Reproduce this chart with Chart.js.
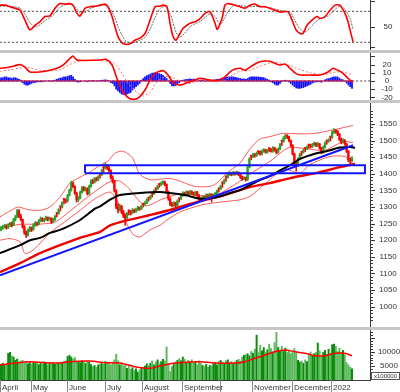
<!DOCTYPE html>
<html><head><meta charset="utf-8">
<script src="https://cdn.jsdelivr.net/npm/chart.js@4.4.1/dist/chart.umd.min.js"></script>
<style>
html,body{margin:0;padding:0;background:#fff;}
#wrap{position:relative;width:400px;height:392px;overflow:hidden;background:#fff;}
canvas{position:absolute;left:0;}
.sep{position:absolute;left:0;width:400px;height:3px;background:#c6c6c6;}
</style></head><body>
<div id="wrap">
<canvas id="c1" width="400" height="50" style="top:0"></canvas>
<div class="sep" style="top:50px"></div>
<canvas id="c2" width="400" height="47" style="top:53px"></canvas>
<div class="sep" style="top:100px"></div>
<canvas id="c3" width="400" height="224" style="top:103px"></canvas>
<div class="sep" style="top:327px"></div>
<canvas id="c4" width="400" height="62" style="top:330px"></canvas>
</div>
<script>
// ---------- DATA (daily bars, index 0 = early April 2021) ----------
const opens = [
1232,1238,1241,1244,1238,1246,1252,1246,1262,1271,
1288,1272,1262,1240,1222,1216,1230,1238,1233,1245,
1252,1248,1258,1265,1260,1262,1268,1263,1266,1255,
1262,1283,1280,1303,1300,1325,1322,1318,1335,1350,
1372,1362,1342,1322,1328,1345,1358,1352,1355,1340,
1362,1378,1375,1385,1382,1401,1398,1421,1418,1424,
1418,1410,1388,1378,1350,1300,1292,1302,1285,1275,
1268,1290,1286,1282,1290,1287,1292,1298,1295,1311,
1308,1312,1329,1326,1343,1340,1357,1355,1371,1368,
1372,1375,1368,1345,1325,1308,1305,1312,1305,1327,
1325,1335,1342,1338,1345,1340,1346,1342,1338,1345,
1335,1325,1322,1330,1328,1336,1332,1338,1330,1336,
1340,1357,1355,1375,1372,1393,1390,1398,1402,1398,
1403,1400,1404,1398,1390,1385,1388,1382,1420,1455,
1452,1458,1455,1469,1466,1460,1468,1472,1465,1478,
1475,1468,1478,1472,1465,1475,1501,1498,1508,1515,
1512,1500,1485,1460,1430,1425,1445,1467,1465,1479,
1476,1489,1486,1482,1488,1492,1485,1490,1478,1465,
1480,1501,1498,1513,1510,1525,1530,1528,1520,1505,
1495,1500,1490,1468,1442,1440];
const highs = [
1242,1245,1248,1247,1250,1254,1255,1266,1275,1293,
1292,1278,1264,1244,1228,1234,1242,1240,1250,1256,
1255,1262,1270,1268,1266,1273,1270,1270,1268,1266,
1276,1284,1295,1304,1316,1326,1325,1338,1354,1378,
1376,1364,1345,1332,1348,1362,1362,1360,1358,1366,
1382,1384,1389,1390,1394,1402,1414,1422,1432,1428,
1422,1412,1394,1380,1352,1310,1308,1305,1290,1280,
1284,1292,1290,1295,1294,1296,1302,1300,1306,1312,
1316,1325,1330,1336,1344,1352,1358,1366,1372,1376,
1380,1378,1370,1348,1328,1314,1316,1315,1322,1328,
1338,1346,1345,1349,1348,1350,1349,1345,1348,1347,
1338,1328,1334,1333,1340,1339,1342,1340,1340,1344,
1352,1358,1366,1376,1384,1394,1402,1406,1405,1407,
1406,1408,1406,1400,1393,1392,1390,1424,1448,1456,
1462,1461,1466,1470,1469,1472,1476,1474,1474,1479,
1477,1482,1480,1475,1478,1492,1502,1512,1519,1518,
1514,1502,1488,1462,1436,1448,1462,1468,1474,1480,
1484,1490,1489,1492,1496,1494,1494,1492,1480,1484,
1496,1502,1506,1514,1529,1536,1534,1531,1522,1508,
1506,1503,1492,1470,1448,1452];
const lows = [
1228,1233,1236,1233,1235,1242,1240,1244,1258,1268,
1268,1258,1236,1218,1208,1212,1226,1226,1230,1242,
1243,1246,1255,1256,1255,1260,1258,1260,1250,1252,
1260,1270,1278,1288,1297,1309,1312,1315,1333,1348,
1358,1338,1315,1316,1325,1342,1348,1348,1336,1338,
1360,1370,1372,1378,1379,1387,1395,1406,1415,1412,
1404,1384,1372,1345,1295,1282,1288,1280,1268,1245,
1264,1276,1276,1279,1283,1284,1289,1290,1292,1300,
1305,1310,1318,1323,1330,1337,1345,1352,1359,1364,
1368,1364,1342,1320,1304,1300,1302,1300,1302,1315,
1322,1332,1333,1335,1336,1337,1338,1334,1335,1332,
1318,1316,1319,1322,1325,1328,1329,1315,1327,1333,
1337,1345,1352,1359,1369,1377,1387,1395,1394,1395,
1396,1397,1394,1386,1380,1382,1378,1380,1418,1442,
1449,1450,1452,1459,1456,1457,1465,1462,1462,1467,
1465,1465,1468,1460,1462,1472,1485,1495,1505,1506,
1496,1482,1456,1420,1408,1422,1442,1455,1462,1467,
1473,1477,1478,1479,1485,1482,1482,1474,1460,1462,
1477,1489,1495,1499,1507,1522,1522,1515,1500,1490,
1492,1486,1464,1436,1430,1436];
const closes = [
1237,1240,1243,1238,1246,1250,1245,1262,1270,1288,
1272,1262,1240,1222,1215,1230,1238,1232,1245,1252,
1248,1258,1265,1260,1262,1268,1263,1266,1255,1262,
1272,1280,1292,1300,1312,1322,1318,1335,1350,1372,
1362,1342,1322,1328,1345,1358,1352,1355,1340,1362,
1378,1375,1385,1382,1390,1398,1410,1418,1424,1418,
1410,1388,1378,1350,1300,1292,1302,1285,1275,1268,
1280,1286,1282,1290,1287,1292,1298,1295,1303,1308,
1312,1322,1326,1332,1340,1348,1355,1362,1368,1372,
1375,1368,1345,1325,1308,1305,1312,1305,1318,1325,
1335,1342,1338,1345,1340,1346,1342,1338,1345,1335,
1325,1322,1330,1328,1336,1332,1338,1330,1336,1340,
1348,1355,1362,1372,1380,1390,1398,1402,1398,1403,
1400,1404,1398,1390,1385,1388,1382,1420,1445,1452,
1458,1455,1462,1466,1460,1468,1472,1465,1470,1475,
1468,1478,1472,1465,1475,1488,1498,1508,1515,1512,
1500,1485,1460,1430,1425,1445,1458,1465,1470,1476,
1480,1486,1482,1488,1492,1485,1490,1478,1465,1480,
1492,1498,1502,1510,1525,1530,1528,1520,1505,1495,
1500,1490,1468,1442,1440,1446];
const volumes = [
5600,6000,5400,5800,9500,9900,8600,8200,7000,7500,
6400,6800,7000,6200,6600,5800,6200,5600,6400,5900,
6300,5500,6100,5700,6500,6000,5400,6200,5800,6100,
5600,6300,5900,6400,6000,6600,6800,8400,8800,8200,
7600,8000,6800,6400,6200,6800,6500,5900,6600,6300,
5500,4800,5200,4600,5400,5800,6400,5600,6600,5900,
6200,5400,6000,7200,9200,6800,5400,6200,5000,5600,
4200,4800,3800,4400,3400,4000,2800,3600,4200,4600,
5000,5800,5200,6000,6800,5400,6400,7200,5800,6600,
7400,6800,11800,5600,3000,4800,5600,6400,7000,7600,
6800,8200,7400,6200,7000,6400,7200,6000,6600,5400,
6800,6000,5200,4800,5600,4600,5200,5000,5800,6200,
5400,6600,7000,6400,5800,6800,7200,6200,6600,5800,
6400,7000,7400,6800,8200,8800,9000,9400,8600,10200,
9600,11000,16000,9800,12400,10400,11600,9800,10800,12800,
11200,10000,13400,17000,11600,10400,12000,10200,11400,9800,
10600,9400,10400,11200,9600,7000,6400,6800,6000,7200,
6600,9200,10000,8600,9400,9800,13200,10400,8400,9800,
10600,9200,11000,9600,12600,12800,12000,10200,11400,9800,
10600,9000,6200,5400,4600,4000];
const macdHist = [
4,4,5,5,4,4,3,4,4,3,
2,1,-2,-4,-5,-5,-4,-3,-2,-2,
-1,-1,-1,-1,0,0,0,0.5,-0.5,0.5,
1,2,3,3.5,4,5,5,5.5,6.5,7,
5,2,-1,-1.5,-1,0,0,0,-1,0,
0.5,0.5,0.5,0,0.5,0.5,1,1,1.5,1,
0,-2,-3,-6,-10,-12,-14,-16,-16.5,-17,
-16,-15,-14,-11,-9,-7,-5,-3,1,3,
5,6.5,7.5,8.5,9.5,10,10,9.5,9,8,
7,5,3,0,-3,-6,-6,-5.5,-4.5,-2,
0.5,1,1.5,2,2,2.5,2,2.5,2,1.5,
1,1,1.5,1,1,1.5,1,0.5,1,1.5,
2,2,2.5,3,3.5,4.5,5,5,5,5,
4.5,4,3.5,3,2.5,2.5,2,3,4.5,5,
5,5,5,5,4.5,4.5,4,3,2,1,
-1,-2,-4,-5,-5,-3,-1,0.5,1,0.5,
-1,-3,-5,-7,-8.5,-9,-9,-8.5,-8,-7,
-6,-5,-4,-2.5,-1.5,-1,-1,-1,-1.5,0,
1.5,2.5,3,3.5,4.5,5,5,5,3.5,2,
1.5,0,-2.5,-5,-7,-9];

// indicator lines: [bar index, value]
const stochK = [[-0.6,92],[2.2,92],[5,89],[7.8,86],[10.6,82],[13.3,63],[16.1,44],[18.9,53],[21.7,60],[24.4,70],[27.2,71],[30,86],[32.8,95],[35.6,94],[38.3,95],[40,92],[42.2,76],[43.9,71],[46.7,86],[49.4,89],[52.2,90],[55,92],[57.8,94],[59.4,89],[61.7,70],[63.3,50],[65,31],[67.2,19],[68.9,16],[71.7,17],[74.4,24],[77.2,28],[80,37],[82.8,63],[85.6,89],[88.3,90],[90,92],[92.2,89],[93.9,57],[95.6,31],[97.2,24],[99.4,37],[101.1,47],[103.3,53],[105,57],[107.8,60],[110.6,66],[113.3,76],[116.1,79],[118.9,57],[120,45],[120.6,47],[122.8,66],[124.4,92],[126.1,95],[130,92],[132.8,89],[135.6,86],[138.3,92],[141.1,94],[143.9,89],[146.7,89],[149.4,86],[155,79],[159.4,79],[161.7,63],[163.9,44],[166.1,37],[167.8,37],[170,53],[172.8,63],[175.6,70],[177.2,66],[180,70],[182.8,82],[185.6,92],[188.3,92],[191.1,76],[192.8,60],[193.9,44],[195.6,21]];
const stochD = [[-0.6,90],[5,90],[10.6,86],[13.3,75],[16.1,58],[18.9,50],[21.7,54],[24.4,62],[27.2,68],[30,76],[32.8,88],[35.6,93],[38.3,94],[41.1,88],[43.9,78],[46.7,78],[49.4,85],[52.2,89],[55,91],[57.8,92],[60.6,84],[63.3,68],[65,50],[67.2,34],[68.9,24],[71.7,18],[74.4,20],[77.2,24],[80,30],[82.8,45],[85.6,68],[88.3,85],[91.1,90],[93.9,76],[95.6,58],[97.2,40],[99.4,30],[102.2,38],[105,50],[107.8,56],[110.6,60],[113.3,68],[116.1,75],[118.9,70],[121.7,55],[124.4,68],[127.2,85],[130,92],[132.8,91],[138.3,89],[143.9,90],[149.4,87],[155,82],[160.6,78],[163.3,62],[166.1,46],[168.9,40],[171.7,48],[174.4,58],[177.2,66],[180,68],[182.8,74],[185.6,84],[188.3,90],[191.1,84],[193.9,66],[195.6,45]];
const macdLine = [[-0.6,15.5],[5,17],[10.6,20],[13.3,17],[16.1,11],[21.7,11],[27.2,13],[32.8,17],[35.6,21.5],[38.3,27.6],[40,30.5],[42.2,25.6],[46.7,25],[55,25.6],[58.3,26.4],[61.7,19.5],[64.4,3.3],[67.2,-11],[70,-19],[72.8,-22.3],[76.1,-21],[80,-11],[82.8,1.2],[85.6,9.4],[90,12.6],[92.8,7.3],[95.6,-2],[99.4,-5],[105,-0.8],[110.6,3.3],[116.1,1],[120.6,1],[124.4,5],[128.3,13],[132.8,15.5],[135.6,13],[138.3,17],[141.1,20.7],[143.9,23.5],[146.7,24.4],[149.4,24],[152.2,21.5],[155,19.5],[157.8,20.7],[160.6,15.5],[163.3,10],[166.1,7.3],[171.7,7.3],[177.2,7.3],[181.7,11],[184.4,15.5],[187.2,13],[190,9.4],[192.8,3.3],[194.4,0],[195.6,-1.6]];
const macdSignal = [[-0.6,12],[5,13.5],[10.6,16],[13.3,17],[16.1,16],[21.7,13],[27.2,12.5],[32.8,14],[38.3,20],[42.2,24],[46.7,25.5],[55,25],[61.7,23],[64.4,18],[67.2,9],[70,-1],[72.8,-8],[76.1,-15],[80,-17],[82.8,-14],[85.6,-4],[88.3,2],[92.8,6],[95.6,4],[99.4,0],[105,-3],[110.6,1.5],[116.1,0],[120.6,-1],[124.4,1],[128.3,7],[132.8,12],[138.3,13],[143.9,18],[149.4,22],[152.2,23],[155,22],[157.8,20],[160.6,19],[163.3,16],[166.1,14],[171.7,10],[177.2,8],[181.7,8.5],[184.4,10.5],[187.2,11],[190,11],[192.8,9],[195.6,7]];
const maBlack = [[-0.6,1161],[10.6,1185],[16.1,1200],[21.7,1207],[27.2,1222],[32.8,1231],[36.7,1240],[43.9,1261],[52.2,1295],[55,1302],[60.6,1322],[63.3,1330],[66.1,1336],[77.2,1342],[88.3,1345],[93.9,1342],[102.2,1336],[110.6,1325],[116.1,1326],[121.7,1332],[127.2,1342],[132.8,1351],[138.3,1366],[143.9,1381],[149.4,1393],[155,1410],[160.6,1426],[166.1,1445],[171.7,1456],[177.2,1464],[182.8,1471],[188.3,1479],[193.9,1481],[196.7,1478]];
const maRed = [[-0.6,1104],[10.6,1131],[21.7,1161],[32.8,1185],[43.9,1207],[55,1225],[60.6,1245],[71.7,1262],[82.8,1276],[93.9,1291],[102.2,1305],[110.6,1318],[121.7,1332],[138.3,1360],[149.4,1372],[160.6,1387],[175.6,1403],[188.3,1420],[196.7,1430]];
const bbUpper = [[-0.6,1270],[5,1288],[9.4,1300],[15,1292],[21.7,1290],[27.2,1300],[32.8,1330],[38.3,1372],[43.9,1390],[49.4,1405],[55,1426],[59.4,1438],[63.3,1462],[67.8,1468],[72.8,1450],[77.2,1398],[82.8,1382],[88.3,1384],[93.9,1386],[99.4,1378],[107.8,1362],[117.8,1365],[127.2,1410],[132.8,1432],[138.3,1475],[143.9,1505],[149.4,1512],[156.7,1522],[166.1,1520],[174.4,1522],[184.4,1532],[195.6,1546]];
const bbMiddle = [[-0.6,1235],[10.6,1248],[20,1248],[30,1255],[40,1295],[50,1338],[60,1375],[65,1380],[70,1362],[80,1304],[90,1325],[100,1340],[110,1334],[120,1337],[130,1368],[140,1405],[150,1440],[160,1479],[170,1475],[180,1471],[190,1497],[195.6,1494]];
const bbLower = [[-0.6,1200],[5,1205],[10.6,1195],[13.3,1160],[17.8,1170],[27.2,1222],[32.8,1245],[43.9,1290],[52.2,1325],[60.6,1345],[65,1315],[68.9,1260],[73.3,1218],[77.2,1210],[82.8,1231],[88.3,1245],[92.2,1261],[99.4,1285],[110.6,1305],[117.8,1312],[127.2,1318],[132.8,1322],[138.3,1332],[147.8,1375],[156.7,1415],[160.6,1410],[166.1,1402],[171.7,1428],[182.8,1452],[191.1,1452],[195.6,1428]];
const trendLine = [[-0.6,1094],[195.6,1486]];
const zoneX = [46.7, 202.2];
const zoneY = [1402, 1426];
const volumeMA = [[-0.6,5350],[7.8,6070],[16.1,6540],[24.4,6190],[32.8,6070],[38.3,6540],[49.4,6780],[57.8,6190],[66.1,6070],[74.4,4760],[82.8,4170],[88.3,5000],[96.7,6070],[105,6420],[110.6,6540],[118.9,6070],[130,6070],[135.6,6540],[141.1,7740],[146.7,8920],[152.2,10100],[157.8,10700],[163.3,10100],[168.9,9520],[174.4,8680],[180,8680],[185.6,9520],[191.1,9520],[195,8680]];
const stochLevels = [80, 20];
const monthStarts = [-0.5, 16.5, 36.5, 57.5, 78.5, 100.5, 121.5, 139.5, 161.5, 183.5];
const monthLabels = ['April','May','June','July','August','September','','November','December','2022'];
const stochTicks = [100, 50, 10], stochLabels = [50];
const macdTicks = [30, 20, 10, 0, -10, -20], macdLabels = [20, 10, 0, -10, -20];
const priceLabels = [1000,1050,1100,1150,1200,1250,1300,1350,1400,1450,1500,1550];
const volTicks = [5000, 10000, 15000], volLabels = [10000, 5000];

// ---------- helpers ----------
const X_MIN = -0.556, X_MAX = 205;
const pts = a => a.map(p => ({x: p[0], y: p[1]}));
const isUp = i => closes[i] >= opens[i];
const FONT = '8px "Liberation Sans", Arial, sans-serif';

function range(a, b, s){ const r=[]; for(let v=a; v<=b+1e-9; v+=s) r.push(Math.round(v*100)/100); return r; }

const rightAxis = {
  id: 'rightAxis',
  afterDraw(chart, args, o){
    const {ctx, chartArea: a, scales: {y}} = chart;
    ctx.save();
    ctx.strokeStyle = '#3a3a3a'; ctx.lineWidth = 1;
    ctx.beginPath();
    ctx.moveTo(a.right + 0.5, a.top); ctx.lineTo(a.right + 0.5, a.bottom);
    (o.minor || []).forEach(v => { const py = Math.round(y.getPixelForValue(v)) + 0.5; if (py < a.top || py > a.bottom) return; ctx.moveTo(a.right, py); ctx.lineTo(a.right + 3, py); });
    (o.major || []).forEach(v => { const py = Math.round(y.getPixelForValue(v)) + 0.5; if (py < a.top || py > a.bottom) return; ctx.moveTo(a.right, py); ctx.lineTo(a.right + 5, py); });
    ctx.stroke();
    ctx.fillStyle = '#333'; ctx.font = FONT; ctx.textAlign = 'center'; ctx.textBaseline = 'middle';
    (o.labels || []).forEach(v => ctx.fillText(String(v), a.right + (o.labelDx || 18), y.getPixelForValue(v)));
    ctx.restore();
  }
};

function baseOptions(ymin, ymax, axisOpts, padBottom){
  return {
    responsive: false, animation: false, events: [],
    layout: {padding: {left: 0, right: 30, top: 0, bottom: padBottom || 0}},
    scales: {
      x: {type: 'linear', min: X_MIN, max: X_MAX, display: false, offset: false},
      y: {type: 'linear', min: ymin, max: ymax, display: false}
    },
    plugins: {legend: {display: false}, tooltip: {enabled: false}, rightAxis: axisOpts}
  };
}
function lineDS(data, color, width, dash, order){
  return {type: 'line', data: pts(data), borderColor: color, borderWidth: width, borderDash: dash || [],
          pointRadius: 0, tension: 0.25, fill: false, order: order || 0};
}
const full = v => [[X_MIN, v], [X_MAX, v]];

// ---------- Stochastic ----------
new Chart(document.getElementById('c1'), {
  type: 'line',
  data: {datasets: [
    ...stochLevels.map(v => lineDS(full(v), '#444', 1, [2, 2], 5)),
    lineDS(stochD, '#6a6a6a', 1, [2, 1], 2),
    lineDS(stochK, '#ff0000', 1.6, [], 1)
  ]},
  options: baseOptions(5, 102, {major: stochTicks, minor: [], labels: stochLabels, labelDx: 18}),
  plugins: [rightAxis]
});

// ---------- MACD ----------
new Chart(document.getElementById('c2'), {
  type: 'bar',
  data: {datasets: [
    lineDS(full(0), '#444', 1, [2, 2], 6),
    {type: 'bar', data: macdHist.map((h, i) => ({x: i, y: h})), backgroundColor: '#1010ff', barThickness: 1.1, grouped: false, order: 4},
    lineDS([[-0.5, 0], [195.5, 0]], '#ff2020', 1, [], 3),
    lineDS(macdSignal, '#ff7070', 1, [2, 2], 2),
    lineDS(macdLine, '#ff0000', 1.6, [], 1)
  ]},
  options: baseOptions(-23.2, 34.15, {major: macdTicks, minor: [], labels: macdLabels, labelDx: 17}),
  plugins: [rightAxis]
});

// ---------- Price ----------
const wickColor = closes.map((c, i) => isUp(i) ? '#2ca02c' : '#ff0000');
new Chart(document.getElementById('c3'), {
  type: 'bar',
  data: {datasets: [
    lineDS(bbUpper, '#ff5a5a', 1, [], 9),
    lineDS(bbMiddle, '#ff5a5a', 1, [], 9),
    lineDS(bbLower, '#ff5a5a', 1, [], 9),
    {type: 'bar', data: lows.map((l, i) => ({x: i, y: [l, highs[i]]})), backgroundColor: wickColor, barThickness: 1, grouped: false, order: 8},
    {type: 'bar', data: opens.map((o, i) => ({x: i, y: [o, closes[i]]})), backgroundColor: wickColor, barThickness: 1.6, grouped: false, order: 7},
    lineDS(maRed, '#ee0000', 2.4, [], 4),
    lineDS(maBlack, '#000000', 2, [], 3),
    {...lineDS(trendLine, '#1414ff', 2, [], 2), tension: 0},
    {...lineDS([[zoneX[0], zoneY[0]], [zoneX[1], zoneY[0]], [zoneX[1], zoneY[1]], [zoneX[0], zoneY[1]], [zoneX[0], zoneY[0]]], '#1414ff', 2, [], 1), tension: 0}
  ]},
  options: baseOptions(938.6, 1613.3, {major: priceLabels, minor: range(950, 1600, 10).filter(v => v % 50 !== 0), labels: priceLabels, labelDx: 18}),
  plugins: [rightAxis]
});

// ---------- Volume ----------
const bottomAxis = {
  id: 'bottomAxis',
  afterDraw(chart){
    const {ctx, chartArea: a, scales: {x}} = chart;
    ctx.save();
    ctx.strokeStyle = '#3a3a3a'; ctx.lineWidth = 1;
    ctx.beginPath(); ctx.moveTo(0, a.bottom + 0.5); ctx.lineTo(a.right + 1, a.bottom + 0.5); ctx.stroke();
    ctx.strokeStyle = '#8a8a8a';
    ctx.beginPath();
    monthStarts.forEach(m => { const px = Math.round(x.getPixelForValue(m)) + 0.5; ctx.moveTo(px, a.bottom); ctx.lineTo(px, a.bottom + 12); });
    ctx.stroke();
    ctx.fillStyle = '#3a3a3a'; ctx.font = FONT; ctx.textAlign = 'left'; ctx.textBaseline = 'middle';
    monthStarts.forEach((m, k) => { if (monthLabels[k]) ctx.fillText(monthLabels[k], Math.round(x.getPixelForValue(m)) + 2, a.bottom + 7.5); });
    // unit box
    ctx.fillStyle = '#fff'; ctx.fillRect(a.right + 1, a.bottom - 8, 29, 8);
    ctx.strokeStyle = '#555'; ctx.strokeRect(a.right + 1.5, a.bottom - 7.5, 28, 7);
    ctx.fillStyle = '#333'; ctx.font = '6px "Liberation Sans", Arial, sans-serif'; ctx.textAlign = 'center';
    ctx.fillText('x100000', a.right + 15.5, a.bottom - 4);
    ctx.restore();
  }
};
new Chart(document.getElementById('c4'), {
  type: 'bar',
  data: {datasets: [
    {type: 'bar', data: volumes.map((v, i) => ({x: i, y: v})), backgroundColor: volumes.map((v, i) => isUp(i) ? '#0a8a0a' : '#5cb85c'), barThickness: 1.3, grouped: false, order: 3},
    lineDS(volumeMA, '#ff0000', 1.5, [], 1)
  ]},
  options: baseOptions(0, 17850, {major: volTicks, minor: range(1000, 17000, 1000).filter(v => v % 5000 !== 0), labels: volLabels, labelDx: 19}, 12),
  plugins: [rightAxis, bottomAxis]
});
</script>
</body></html>
